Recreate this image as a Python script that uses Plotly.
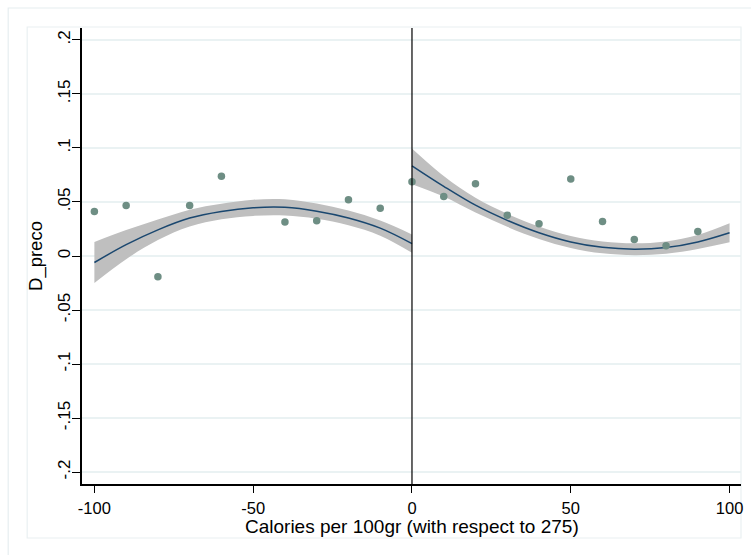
import plotly.graph_objects as go

# ---- data ----
x_pts = [-100, -90, -80, -70, -60, -40, -30, -20, -10, 0, 10, 20, 30, 40, 50, 60, 70, 80, 90]
y_pts = [0.0412, 0.0467, -0.0192, 0.0467, 0.0739, 0.0314, 0.0326, 0.0520, 0.0443, 0.0687,
         0.0551, 0.0668, 0.0378, 0.0298, 0.0712, 0.0319, 0.0153, 0.0094, 0.0227]

x_left = [-100, -90, -80, -70, -60, -50, -40, -30, -20, -10, 0]
fit_left = [-0.0060, 0.0105, 0.0242, 0.0351, 0.0412, 0.0446, 0.0450, 0.0415, 0.0352, 0.0258, 0.0115]
hi_left = [0.0130, 0.0240, 0.0337, 0.0429, 0.0484, 0.0521, 0.0525, 0.0485, 0.0420, 0.0328, 0.0200]
lo_left = [-0.0250, -0.0030, 0.0147, 0.0273, 0.0340, 0.0371, 0.0375, 0.0345, 0.0284, 0.0188, 0.0030]

x_right = [0, 10, 20, 30, 40, 50, 60, 70, 80, 90, 100]
fit_right = [0.0835, 0.0645, 0.0470, 0.0330, 0.0215, 0.0130, 0.0080, 0.0063, 0.0078, 0.0130, 0.0215]
hi_right = [0.0995, 0.0740, 0.0538, 0.0390, 0.0272, 0.0185, 0.0135, 0.0118, 0.0135, 0.0195, 0.0303]
lo_right = [0.0665, 0.0550, 0.0402, 0.0270, 0.0158, 0.0075, 0.0025, 0.0008, 0.0021, 0.0065, 0.0127]

x_ticks = [-100, -50, 0, 50, 100]
x_ticktext = ["-100", "-50", "0", "50", "100"]
y_ticks = [0.2, 0.15, 0.1, 0.05, 0, -0.05, -0.1, -0.15, -0.2]
y_ticktext = [".2", ".15", ".1", ".05", "0", "-.05", "-.1", "-.15", "-.2"]

x_title = "Calories per 100gr (with respect to 275)"
y_title = "D_preco"

BAND = "#BFBFBF"
NAVY = "#1A476F"
DOT = "#6E8E84"
GRID = "#EAF2F3"
FONT = "Arial, Liberation Sans, sans-serif"

fig = go.Figure()

for xs, hi, lo in [(x_left, hi_left, lo_left), (x_right, hi_right, lo_right)]:
    fig.add_trace(go.Scatter(x=xs, y=hi, mode="lines", line=dict(width=0, shape="spline"),
                             showlegend=False, hoverinfo="skip"))
    fig.add_trace(go.Scatter(x=xs, y=lo, mode="lines", line=dict(width=0, shape="spline"),
                             fill="tonexty", fillcolor=BAND, showlegend=False, hoverinfo="skip"))

for xs, ys in [(x_left, fit_left), (x_right, fit_right)]:
    fig.add_trace(go.Scatter(x=xs, y=ys, mode="lines",
                             line=dict(color=NAVY, width=1.5, shape="spline"), showlegend=False))

fig.add_trace(go.Scatter(x=x_pts, y=y_pts, mode="markers",
                         marker=dict(color=DOT, size=7.5, line=dict(width=0)), showlegend=False))

# vertical reference line at x = 0
fig.add_shape(type="line", xref="x", yref="paper", x0=0, x1=0, y0=0, y1=1,
              line=dict(color="black", width=1.2), layer="above")

# Stata-style frames (outer graph region and inner plot region)
fig.add_shape(type="rect", xref="paper", yref="paper", x0=-0.112, x1=1.05, y0=-0.2, y1=1.0439,
              line=dict(color="#E6EEF0", width=1.2), layer="below")
fig.add_shape(type="rect", xref="paper", yref="paper", x0=-0.0832, x1=1.0, y0=-0.1184, y1=1.0022,
              line=dict(color="#EAF0F2", width=1.2), layer="below")

# x-axis title placed just under the tick labels, as in the reference
fig.add_annotation(text=x_title, xref="paper", yref="paper", x=0.5, y=-0.093,
                   xanchor="center", yanchor="middle", showarrow=False,
                   font=dict(size=19, family=FONT, color="black"))

fig.update_layout(
    width=751, height=555,
    margin=dict(l=82, r=8, t=28, b=71),
    paper_bgcolor="white", plot_bgcolor="white",
    font=dict(family=FONT, color="black", size=17),
    showlegend=False,
    xaxis=dict(
        range=[-103.9, 103.6], tickmode="array", tickvals=x_ticks, ticktext=x_ticktext,
        ticks="outside", ticklen=7, tickwidth=1.3, tickcolor="black",
        showline=True, linecolor="black", linewidth=1.5,
        showgrid=False, zeroline=False,
        tickfont=dict(size=16.5), ticklabelstandoff=1,
    ),
    yaxis=dict(
        range=[-0.211, 0.211], tickmode="array", tickvals=y_ticks, ticktext=y_ticktext,
        tickangle=-90,
        ticks="outside", ticklen=8, tickwidth=1.3, tickcolor="black",
        showline=True, linecolor="black", linewidth=1.5,
        showgrid=True, gridcolor=GRID, gridwidth=1.5, zeroline=False,
        tickfont=dict(size=17), ticklabelstandoff=-5,
        title=dict(text=y_title, font=dict(size=18.5), standoff=8),
    ),
)

fig.write_html("out.html")
